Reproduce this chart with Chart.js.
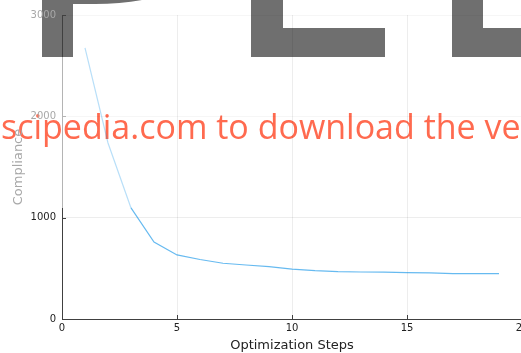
<!DOCTYPE html>
<html>
<head>
<meta charset="utf-8">
<script src="https://cdn.jsdelivr.net/npm/chart.js@4/dist/chart.umd.min.js"></script>
<style>
  html, body { margin: 0; padding: 0; background: #fff; overflow: hidden; }
  #wrap { width: 560px; height: 353px; }
</style>
</head>
<body>
<div id="wrap"><canvas id="c" width="560" height="353"></canvas></div>
<script>
// Compliance history over the optimization run
const steps = [1, 2, 3, 4, 5, 6, 7, 8, 9, 10, 11, 12, 13, 14, 15, 16, 17, 18, 19];
const compliance = [2675, 1737, 1096, 760, 632, 587, 550, 533, 517, 493, 477, 467, 464, 462, 457, 455, 447, 447, 447];
const xTicks = [0, 5, 10, 15, 20];
const yTicks = [0, 1000, 2000, 3000];
const bannerText = 'scipedia.com to download the ve';

const tickFont = { family: 'DejaVu Sans', size: 10 };
const titleFont = { family: 'DejaVu Sans', size: 13 };
const FADE_Y = 208;          // pixel row above which the plot is washed out
const FADE_VALUE = 1100;     // data value at about that row

// Banner behind the plot: dark letter blocks and red text
const banner = {
  id: 'banner',
  beforeDraw(chart) {
    const ctx = chart.ctx;
    ctx.save();
    ctx.fillStyle = '#fff';
    ctx.fillRect(0, 0, chart.width, chart.height);
    ctx.fillStyle = '#6f6f6f';
    ctx.fillRect(42, 0, 31, 57);
    ctx.beginPath();
    ctx.moveTo(73, 0);
    ctx.lineTo(142, 0);
    ctx.quadraticCurveTo(120, 4, 95, 4);
    ctx.lineTo(73, 4);
    ctx.closePath();
    ctx.fill();
    ctx.fillRect(251, 0, 32, 57);
    ctx.fillRect(283, 28, 102, 29);
    ctx.fillRect(452, 0, 31, 57);
    ctx.fillRect(483, 28, 80, 29);

    ctx.fillStyle = '#ff6a4f';
    ctx.font = '34px "Open Sans"';
    ctx.textBaseline = 'alphabetic';
    ctx.textAlign = 'left';
    ctx.fillText(bannerText, 1, 139);
    ctx.restore();
  },
  // left axis line and short inward tick marks
  afterDraw(chart) {
    const ctx = chart.ctx;
    const x = chart.scales.x, y = chart.scales.y;
    const area = chart.chartArea;
    const ax = Math.round(area.left) + 0.5;
    ctx.save();
    ctx.lineWidth = 1;
    ctx.strokeStyle = '#404040';
    ctx.beginPath();
    ctx.moveTo(ax, area.bottom);
    ctx.lineTo(ax, FADE_Y);
    ctx.moveTo(ax, area.top);
    ctx.lineTo(ax, 57);
    xTicks.forEach(v => {
      const px = Math.round(x.getPixelForValue(v)) + 0.5;
      ctx.moveTo(px, area.bottom);
      ctx.lineTo(px, area.bottom - 4);
    });
    yTicks.forEach(v => {
      const py = Math.round(y.getPixelForValue(v)) + 0.5;
      if (py < 57 || py > FADE_Y) {
        ctx.moveTo(area.left, py);
        ctx.lineTo(area.left + 4, py);
      }
    });
    ctx.stroke();
    ctx.strokeStyle = '#b4b4b4';
    ctx.beginPath();
    ctx.moveTo(ax, FADE_Y);
    ctx.lineTo(ax, 57);
    yTicks.forEach(v => {
      const py = Math.round(y.getPixelForValue(v)) + 0.5;
      if (py >= 57 && py <= FADE_Y) {
        ctx.moveTo(area.left, py);
        ctx.lineTo(area.left + 4, py);
      }
    });
    ctx.stroke();
    ctx.restore();
  }
};

new Chart(document.getElementById('c'), {
  type: 'line',
  data: {
    datasets: [{
      data: steps.map((s, i) => ({ x: s, y: compliance[i] })),
      borderColor: 'rgba(0,140,230,0.6)',
      segment: {
        borderColor: c => c.p0.parsed.y > FADE_VALUE ? 'rgba(0,140,230,0.28)' : 'rgba(0,140,230,0.6)'
      },
      borderWidth: 1.2,
      pointRadius: 0,
      fill: false,
      tension: 0
    }]
  },
  options: {
    responsive: false,
    animation: false,
    layout: { padding: { left: 0, right: 38, top: 15, bottom: 0 } },
    plugins: { legend: { display: false }, tooltip: { enabled: false } },
    scales: {
      x: {
        type: 'linear',
        min: 0, max: 20,
        afterBuildTicks: s => { s.ticks = xTicks.map(v => ({ value: v })); },
        afterFit: s => { s.height = 34; },
        grid: { color: 'rgba(0,0,0,0.07)', drawTicks: false },
        border: { color: '#404040', width: 1 },
        ticks: { color: '#222', font: tickFont, padding: 3, maxRotation: 0, callback: v => String(v) },
        title: { display: true, text: 'Optimization Steps', color: '#222', font: titleFont, padding: { top: 0, bottom: 0 } }
      },
      y: {
        type: 'linear',
        min: 0, max: 3000,
        afterBuildTicks: s => { s.ticks = yTicks.map(v => ({ value: v })); },
        afterFit: s => { s.width = 62; },
        grid: {
          color: c => (c.tick && c.tick.value > FADE_VALUE) ? 'rgba(0,0,0,0.035)' : 'rgba(0,0,0,0.07)',
          drawTicks: false
        },
        border: { display: false },
        ticks: {
          color: c => (c.tick && c.tick.value > FADE_VALUE) ? '#a8a8a8' : '#222',
          font: tickFont, padding: 6, callback: v => String(v)
        },
        title: { display: true, text: 'Compliance', color: '#a8a8a8', font: titleFont, padding: { top: 11, bottom: 0 } }
      }
    }
  },
  plugins: [banner]
});
</script>
</body>
</html>
